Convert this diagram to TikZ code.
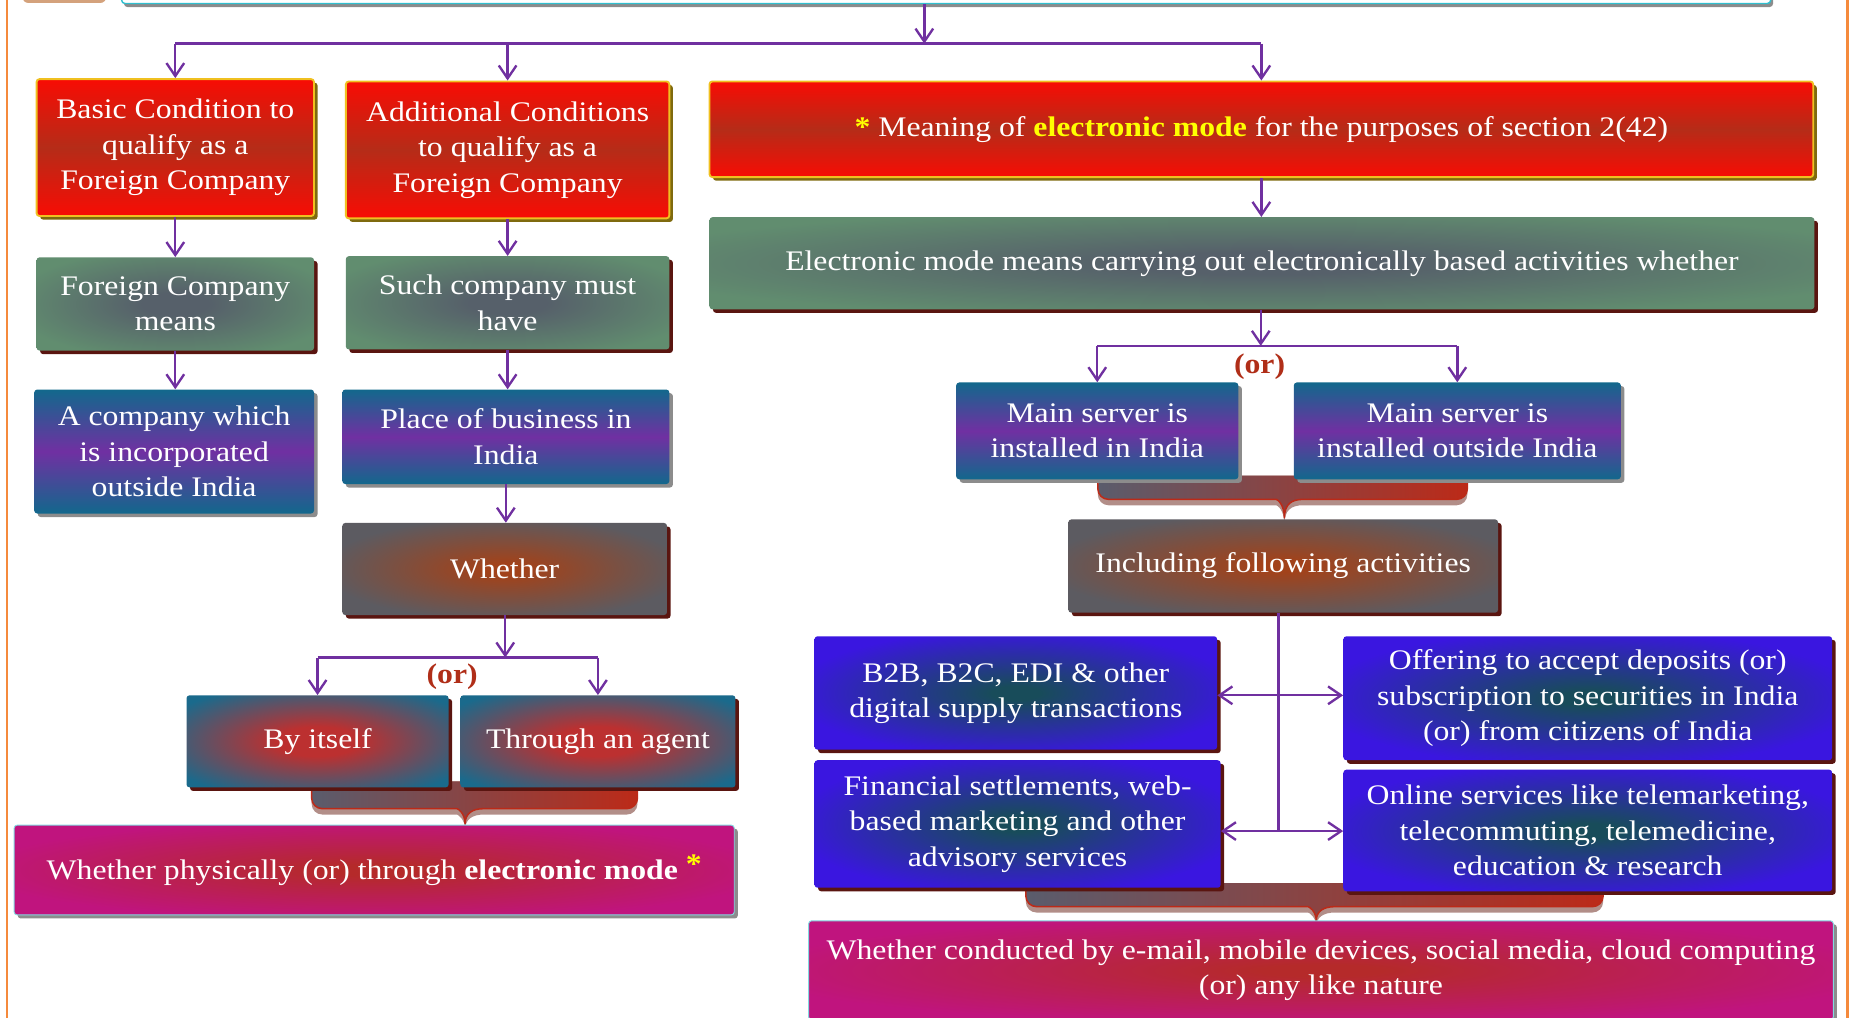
\documentclass[tikz,border=0pt]{standalone}
\usepackage{fontspec}
\setmainfont{Liberation Serif}[FakeStretch=1.12]
\usetikzlibrary{arrows.meta,shadows}

% palette
\definecolor{arrowpurple}{HTML}{7030A0}
\definecolor{frameorange}{HTML}{F58A3C}
\definecolor{redbright}{HTML}{F80C04}
\definecolor{reddeep}{HTML}{B52C18}
\definecolor{goldline}{HTML}{F0C020}
\definecolor{oliveshadow}{HTML}{7F6A0E}
\definecolor{maroonshadow}{HTML}{5A1510}
\definecolor{greyshadow}{HTML}{8C8C8C}
\definecolor{sage}{HTML}{618D6F}
\definecolor{sagecore}{HTML}{56606A}
\definecolor{tealbox}{HTML}{12688C}
\definecolor{purplebox}{HTML}{7030A2}
\definecolor{slate}{HTML}{5C5B61}
\definecolor{slatecore}{HTML}{A2421A}
\definecolor{tealred}{HTML}{1A6A8C}
\definecolor{tealredcore}{HTML}{BC3030}
\definecolor{magentabox}{HTML}{C0147E}
\definecolor{magentacore}{HTML}{B52A2A}
\definecolor{bluebox}{HTML}{3A16E0}
\definecolor{bluecore}{HTML}{184C5A}
\definecolor{orred}{HTML}{B02E18}
\definecolor{bracegrey}{HTML}{5A5C6C}
\definecolor{bracered}{HTML}{BC2A18}
\definecolor{braceshade}{HTML}{B28E88}
\definecolor{staryellow}{HTML}{FFFF00}
\definecolor{tanbox}{HTML}{D4A27C}
\definecolor{cyanline}{HTML}{30C0D0}

% soft centre glows
\pgfdeclareradialshading{sageglow}{\pgfpoint{0bp}{0bp}}{color(0bp)=(sagecore); color(6bp)=(sagecore); color(30bp)=(sage); color(50bp)=(sage)}
\pgfdeclareradialshading{slateglow}{\pgfpoint{0bp}{0bp}}{color(0bp)=(slatecore); color(3bp)=(slatecore); color(28bp)=(slate); color(50bp)=(slate)}
\pgfdeclareradialshading{tealredglow}{\pgfpoint{0bp}{0bp}}{color(0bp)=(tealredcore); color(8bp)=(tealredcore); color(32bp)=(tealred); color(50bp)=(tealred)}
\pgfdeclareradialshading{magentaglow}{\pgfpoint{0bp}{0bp}}{color(0bp)=(magentacore); color(3bp)=(magentacore); color(28bp)=(magentabox); color(50bp)=(magentabox)}
\pgfdeclareradialshading{blueglow}{\pgfpoint{0bp}{0bp}}{color(0bp)=(bluecore); color(3bp)=(bluecore); color(28bp)=(bluebox); color(50bp)=(bluebox)}

% box given by its corners: name, x1, y1, x2, y2, style, text
\newcommand\cbox[7]{\node[#6, minimum width={#4-#2}, minimum height={#5-#3}] (#1) at ({(#2+#4)/2},{(#3+#5)/2}) {#7};}

% curly band: x1, x2, top, band bottom, tip x, tip y
\newcommand\curlyband[6]{%
  \fill[braceshade] (#1,#3) [rounded corners=9pt] -- (#1,{#4+5}) -- ({#5-16},{#4+5}) [sharp corners]
    .. controls ({#5-6},{#4+5}) and (#5,{#4+9}) .. (#5,{#6+5})
    .. controls (#5,{#4+9}) and ({#5+6},{#4+5}) .. ({#5+16},{#4+5}) [rounded corners=9pt]
    -- (#2,{#4+5}) -- (#2,#3) -- cycle;
  \shade[left color=bracegrey, right color=bracered] (#1,#3) [rounded corners=9pt] -- (#1,#4) -- ({#5-16},#4) [sharp corners]
    .. controls ({#5-6},#4) and (#5,{#4+4}) .. (#5,#6)
    .. controls (#5,{#4+4}) and ({#5+6},#4) .. ({#5+16},#4) [rounded corners=9pt]
    -- (#2,#4) -- (#2,#3) -- cycle;
  \draw[bracered, line width=1.3pt] (#1,#3) [rounded corners=9pt] -- (#1,#4) -- ({#5-16},#4) [sharp corners]
    .. controls ({#5-6},#4) and (#5,{#4+4}) .. (#5,#6)
    .. controls (#5,{#4+4}) and ({#5+6},#4) .. ({#5+16},#4) [rounded corners=9pt]
    -- (#2,#4) -- (#2,#3);}

\begin{document}
\begin{tikzpicture}[x=1pt,y=-1pt,
  base/.style={rectangle, rounded corners=2.5pt, align=center, text=white, inner sep=0pt,
    font=\fontsize{24}{30}\selectfont},
  shadowolive/.style={drop shadow={shadow xshift=3pt,shadow yshift=-3pt,fill=oliveshadow,opacity=1}},
  shadowmaroon/.style={drop shadow={shadow xshift=3pt,shadow yshift=-3pt,fill=maroonshadow,opacity=1}},
  shadowgrey/.style={drop shadow={shadow xshift=3pt,shadow yshift=-3pt,fill=greyshadow,opacity=1}},
  redbox/.style={base, top color=redbright, bottom color=redbright, middle color=reddeep,
    draw=goldline, line width=1.6pt, shadowolive},
  sagebox/.style={base, shade, shading=sageglow, shadowmaroon},
  tpbox/.style={base, top color=tealbox, bottom color=tealbox, middle color=purplebox, shadowgrey},
  slatebox/.style={base, shade, shading=slateglow, shadowmaroon},
  trbox/.style={base, shade, shading=tealredglow, shadowmaroon},
  magbox/.style={base, shade, shading=magentaglow, draw=cyanline!60, line width=0.8pt, shadowgrey},
  bluebox/.style={base, shade, shading=blueglow, shadowmaroon},
  tabbox/.style={rectangle, rounded corners=5pt, fill=tanbox},
  headbox/.style={rectangle, rounded corners=3pt, fill=white, draw=cyanline, line width=1.2pt,
    drop shadow={shadow xshift=2pt,shadow yshift=-3pt,fill=greyshadow,opacity=1}},
  link/.style={draw=arrowpurple, line width=2pt},
  arr/.style={link, -{Straight Barb[length=11pt,width=15pt]}},
  dblarr/.style={link, {Straight Barb[length=11pt,width=15pt]}-{Straight Barb[length=11pt,width=15pt]}},
  ortext/.style={text=orred, font=\fontsize{24}{30}\selectfont\bfseries, inner sep=0pt}]

\useasboundingbox (0,0) rectangle (1568,862);
\clip (0,0) rectangle (1568,862);

% page frame
\draw[frameorange, line width=2pt] (6,-10) -- (6,880);
\draw[frameorange, line width=2pt] (1565,-10) -- (1565,880);

% curly bands (behind the boxes)
\curlyband{264}{540}{662}{685}{394}{698}
\curlyband{930}{1243}{403}{423}{1088}{439}
\curlyband{869}{1358}{748}{768}{1115}{780}

% header row
\cbox{tab}{19}{-30}{90}{2.5}{tabbox}{}
\cbox{head}{103}{-40}{1500}{3}{headbox}{}

% left column
\cbox{basic}{31}{67}{266}{183}{redbox}{Basic Condition to\\qualify as a\\Foreign Company}
\cbox{fcm}{31}{218}{266}{297}{sagebox}{Foreign Company\\means}
\cbox{comp}{29}{330}{266}{435}{tpbox}{A company which\\is incorporated\\outside India}

% second column
\cbox{add}{293}{69}{567}{185}{redbox}{Additional Conditions\\to qualify as a\\Foreign Company}
\cbox{such}{293}{217}{567}{296}{sagebox}{Such company must\\have}
\cbox{place}{290}{330}{567}{410}{tpbox}{Place of business in\\India}
\cbox{whether}{290}{443}{565}{521}{slatebox}{Whether}
\cbox{self}{158}{589}{380}{667}{trbox}{By itself}
\cbox{agent}{390}{589}{623}{667}{trbox}{Through an agent}
\cbox{phys}{12}{699}{622}{775}{magbox}{Whether physically (or) through \textbf{electronic mode} \raisebox{5pt}{\textcolor{staryellow}{\textbf{*}}}}

% right block
\cbox{meaning}{601}{69}{1536}{150}{redbox}{\textcolor{staryellow}{\textbf{*}} Meaning of \textcolor{staryellow}{\textbf{electronic mode}} for the purposes of section 2(42)}
\cbox{emode}{601}{184}{1537}{262}{sagebox}{Electronic mode means carrying out electronically based activities whether}
\cbox{srvin}{810}{324}{1049}{406}{tpbox}{Main server is\\installed in India}
\cbox{srvout}{1096}{324}{1373}{406}{tpbox}{Main server is\\installed outside India}
\cbox{incl}{905}{440}{1269}{519}{slatebox}{Including following activities}
\cbox{b2b}{690}{539}{1031}{635}{bluebox}{B2B, B2C, EDI \& other\\digital supply transactions}
\cbox{offer}{1138}{539}{1552}{644}{bluebox}{Offering to accept deposits (or)\\subscription to securities in India\\(or) from citizens of India}
\cbox{fin}{690}{644}{1034}{752}{bluebox}{Financial settlements, web-\\based marketing and other\\advisory services}
\cbox{online}{1138}{652}{1552}{755}{bluebox}{Online services like telemarketing,\\telecommuting, telemedicine,\\education \& research}
\cbox{conducted}{685}{780}{1553}{864}{magbox}{Whether conducted by e-mail, mobile devices, social media, cloud computing\\(or) any like nature}

% choice labels
\node[ortext] (or1) at (383,573) {(or)};
\node[ortext] (or2) at (1067,311) {(or)};

% splitting points
\coordinate (top split) at (783,37);
\coordinate (whether split) at (428,557);
\coordinate (server split) at (1068,293);
\coordinate (upper join) at (1083,589);
\coordinate (lower join) at (1083,704);

% connectors from the header
\draw[arr] (head.south -| top split) -- (top split);
\draw[link] (basic.north |- top split) -- (meaning.north |- top split);
\draw[arr] (basic.north |- top split) -- (basic.north);
\draw[arr] (add.north |- top split) -- (add.north);
\draw[arr] (meaning.north |- top split) -- (meaning.north);

% left chains
\draw[arr] (basic.south) -- (basic.south |- fcm.north);
\draw[arr] (fcm.south) -- (fcm.south |- comp.north);
\draw[arr] (add.south) -- (add.south |- such.north);
\draw[arr] (such.south) -- (such.south |- place.north);
\draw[arr] (place.south) -- (place.south |- whether.north);
\draw[arr] (whether.south -| whether split) -- (whether split);
\draw[link] (self.north |- whether split) -- (agent.north |- whether split);
\draw[arr] (self.north |- whether split) -- (self.north);
\draw[arr] (agent.north |- whether split) -- (agent.north);

% right chains
\draw[arr] (meaning.south) -- (meaning.south |- emode.north);
\draw[arr] (emode.south -| server split) -- (server split);
\draw[link] (srvin.north |- server split) -- (srvout.north |- server split);
\draw[arr] (srvin.north |- server split) -- (srvin.north);
\draw[arr] (srvout.north |- server split) -- (srvout.north);
\draw[link] (incl.south -| upper join) -- (lower join);
\draw[dblarr] (upper join -| b2b.east) -- (upper join -| offer.west);
\draw[dblarr] (lower join -| fin.east) -- (lower join -| online.west);

\end{tikzpicture}
\end{document}
